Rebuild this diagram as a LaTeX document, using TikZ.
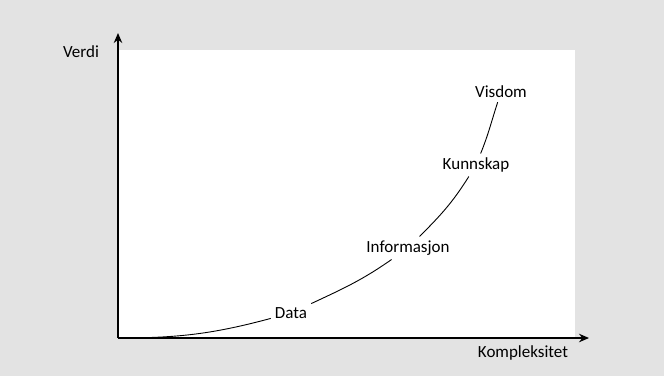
\documentclass[tikz,border=0pt]{standalone}
\usepackage{fontspec}
\setmainfont{Carlito}
\usepackage{xcolor}
\usetikzlibrary{calc, arrows.meta}

\definecolor{bggray}{RGB}{227,227,227}

\begin{document}
\begin{tikzpicture}[x=1pt, y=-1pt, font=\fontsize{17}{20}\selectfont,
		stage/.style={inner sep=4pt},
		curve/.style={line width=0.9pt}]
	\def\xMIN{118};
	\def\xMAX{589};
	\def\yMIN{338};
	\def\yMAX{33};

	\fill[bggray] (0,0) rectangle (664,376);
	\fill[white] (\xMIN,50) rectangle (575,\yMIN);

	\begin{scope}[-{Stealth[length=10pt, width=8.5pt]}, line width=1.2pt]
		\draw (\xMIN,\yMIN) -- (\xMAX,\yMIN);
		\draw (\xMIN,\yMIN) -- (\xMIN,\yMAX);
	\end{scope}
	\node (verdi) at (81,52) {Verdi};
	\node (kompleksitet) at (523,353) {Kompleksitet};

	\coordinate (origo) at (\xMIN,\yMIN);
	\node[stage] (data) at (291,313) {Data};
	\node[stage] (informasjon) at (408,248) {Informasjon};
	\node[stage] (kunnskap) at (476,165) {Kunnskap};
	\node[stage] (visdom) at (501,92) {Visdom};

	\begin{scope}[curve]
		\draw (origo) to[out=0, in=195] (data);
		\draw (data) to[out=25, in=215] (informasjon);
		\draw (informasjon) to[out=45, in=238] (kunnskap);
		\draw (kunnskap) to[out=68, in=252] (visdom);
	\end{scope}
\end{tikzpicture}
\end{document}
